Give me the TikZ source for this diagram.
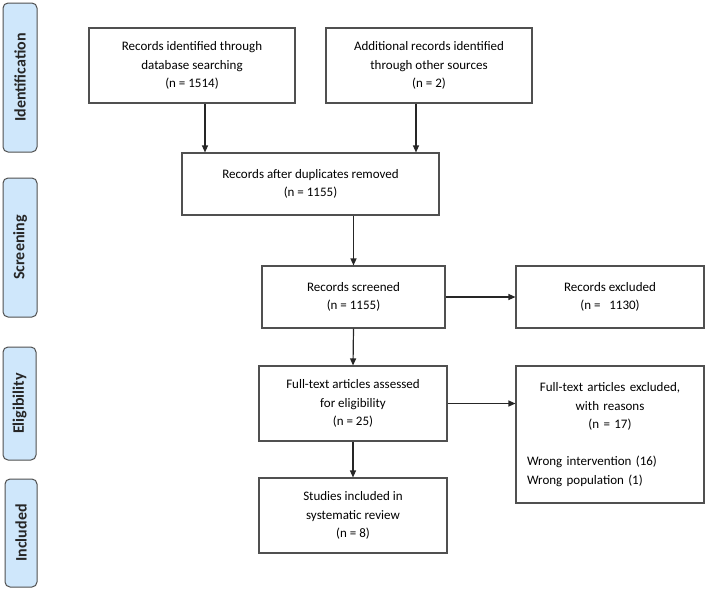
\documentclass[tikz,border=0pt]{standalone}
\usepackage{fontspec}
\setmainfont{Carlito}
\usetikzlibrary{arrows.meta}
\definecolor{boxline}{HTML}{505050}
\definecolor{sidefill}{HTML}{CFE7FB}
\definecolor{sideline}{HTML}{505050}
\tikzset{
  flowbox/.style={draw=boxline, line width=1.1pt, fill=white, font=\fontsize{13}{18.5}\selectfont, align=center, inner sep=0pt},
  sidebox/.style={draw=sideline, line width=1pt, fill=sidefill, rounded corners=5pt, inner sep=0pt},
  sidetext/.style={font=\bfseries\fontsize{16}{18}\selectfont, rotate=90, text=black!85},
  arr/.style={-{Triangle[length=7pt,width=6pt]}, line width=1.2pt, draw=black!85}
}
\begin{document}
\begin{tikzpicture}[x=1pt,y=-1pt]
\useasboundingbox (0,0) rectangle (707,590);
% side labels
\node[sidebox, minimum width=34pt, minimum height=149pt] (s1) at (20,77.5) {};
\node[sidetext] (t1) at (s1.center) {Identification};
\node[sidebox, minimum width=34pt, minimum height=139pt] (s2) at (20,247.5) {};
\node[sidetext] (t2) at (s2.center) {Screening};
\node[sidebox, minimum width=33pt, minimum height=113pt] (s3) at (19.5,403.5) {};
\node[sidetext] (t3) at (s3.center) {Eligibility};
\node[sidebox, minimum width=32pt, minimum height=108pt] (s4) at (21,533) {};
\node[sidetext] (t4) at (s4.center) {Included};
% flow boxes
\node[flowbox, minimum width=206pt, minimum height=75pt] (b1) at (192,65.5)
  {Records identified through\\database searching\\(n = 1514)};
\node[flowbox, minimum width=206pt, minimum height=75pt] (b2) at (429,65.5)
  {Additional records identified\\through other sources\\(n = 2)};
\node[flowbox, minimum width=257pt, minimum height=62pt] (b3) at (310.5,184)
  {Records after duplicates removed\\(n = 1155)};
\node[flowbox, minimum width=183pt, minimum height=62pt] (b4) at (353.5,297)
  {Records screened\\(n = 1155)};
\node[flowbox, minimum width=188pt, minimum height=62pt] (b5) at (610,297)
  {Records excluded\\(n = \ \ 1130)};
\node[flowbox, minimum width=188pt, minimum height=75pt] (b6) at (353,403.5)
  {Full-text articles assessed\\for eligibility\\(n = 25)};
\node[flowbox, minimum width=188pt, minimum height=137pt, text width=166pt, align=left] (b7) at (610,434.5)
  {\centering Full-text articles excluded,\\with reasons\\(n = 17)\par\vspace{18.5pt}\raggedright Wrong intervention (16)\\Wrong population (1)\par};
\node[flowbox, minimum width=188pt, minimum height=75pt] (b8) at (353,515.5)
  {Studies included in\\systematic review\\(n = 8)};
% connectors
\coordinate (c1) at (205,0);
\coordinate (c2) at (416,0);
\draw[arr] (b1.south -| c1) -- (b3.north -| c1);
\draw[arr] (b2.south -| c2) -- (b3.north -| c2);
\draw[arr] (b3.south -| b4.north) -- (b4.north);
\draw[arr] (b4.east) -- (b5.west);
\draw[arr] (b4.south) -- (b6.north);
\draw[arr] (b6.east) -- (b6.east -| b7.west);
\draw[arr] (b6.south) -- (b8.north);
\end{tikzpicture}
\end{document}
